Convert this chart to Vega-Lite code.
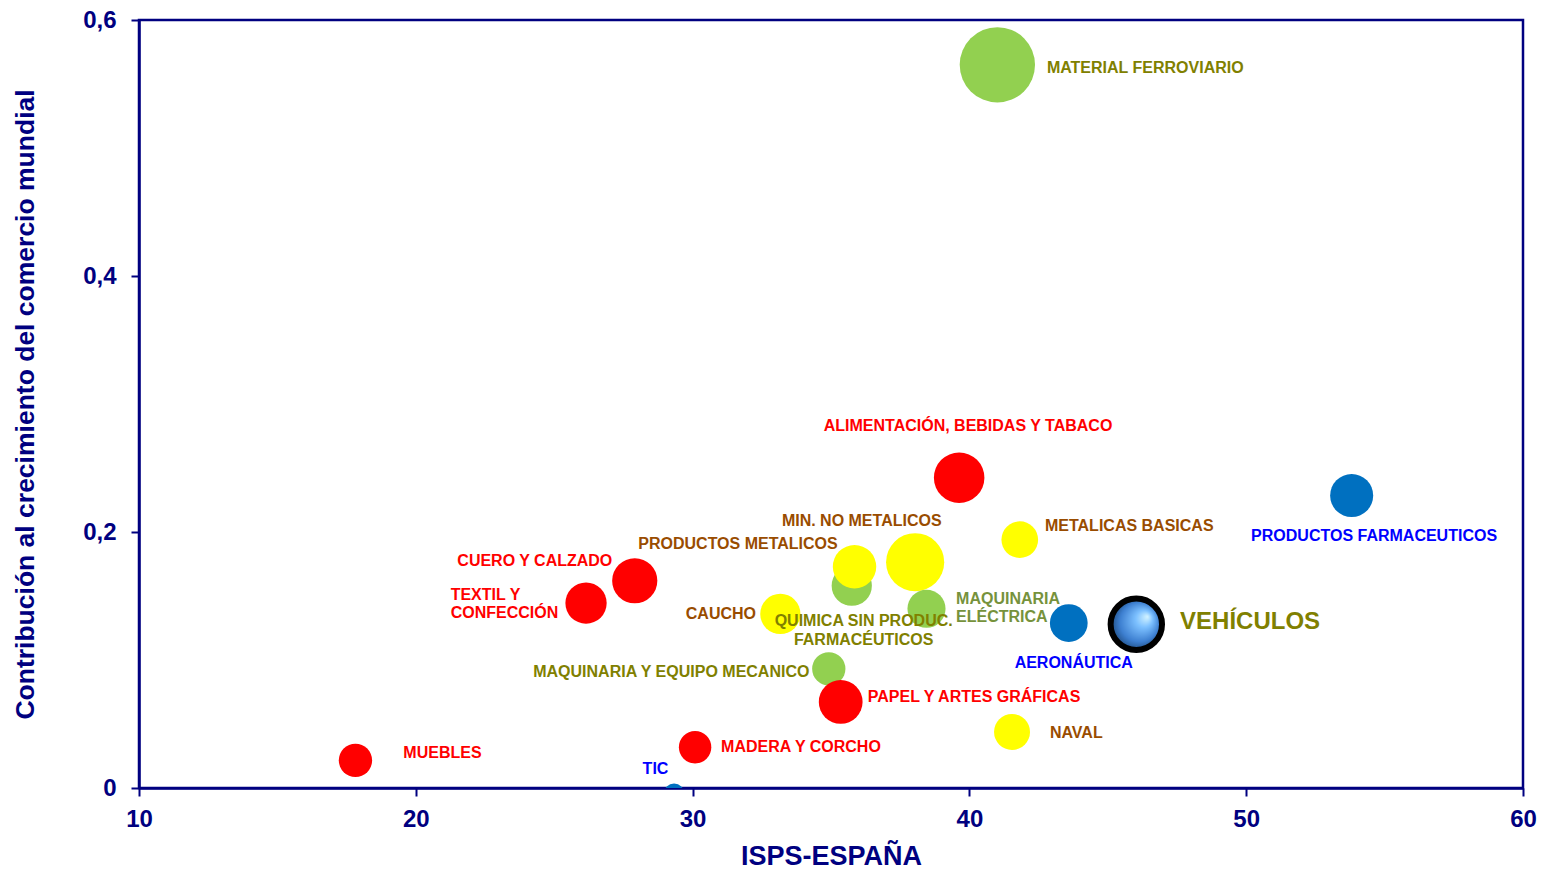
{
  "$schema": "https://vega.github.io/schema/vega-lite/v6.json",
  "width": 1384,
  "height": 768,
  "autosize": {"type": "none"},
  "padding": {"left": 139, "top": 20, "right": 20, "bottom": 82},
  "background": "white",
  "config": {
    "view": {"stroke": "#000080", "strokeWidth": 2.5},
    "font": "Liberation Sans",
    "axis": {
      "grid": false,
      "domainColor": "#000080",
      "domainWidth": 2.5,
      "tickColor": "#000080",
      "tickWidth": 2,
      "tickSize": 8,
      "labelColor": "#000080",
      "labelFont": "Liberation Sans",
      "labelFontSize": 24,
      "labelFontWeight": "bold",
      "titleColor": "#000080",
      "titleFont": "Liberation Sans",
      "titleFontSize": 27,
      "titleFontWeight": "bold"
    }
  },
  "data": {
    "values": [
      {"sector": "MUEBLES", "etiqueta": "MUEBLES", "isps": 17.82, "contribucion": 0.0216, "peso": 353, "grupo": "rojo", "lx": 19.55, "ly": 0.027},
      {"sector": "TIC", "etiqueta": "TIC", "isps": 29.33, "contribucion": -0.0046, "peso": 135, "grupo": "azul", "lx": 28.66, "ly": 0.0147},
      {"sector": "MADERA Y CORCHO", "etiqueta": "MADERA Y CORCHO", "isps": 30.09, "contribucion": 0.0319, "peso": 335, "grupo": "rojo", "lx": 31.03, "ly": 0.032},
      {"sector": "TEXTIL Y CONFECCIÓN", "etiqueta": "TEXTIL Y\nCONFECCIÓN", "isps": 26.15, "contribucion": 0.1445, "peso": 543, "grupo": "rojo", "lx": 21.26, "ly": 0.1511},
      {"sector": "CUERO Y CALZADO", "etiqueta": "CUERO Y CALZADO", "isps": 27.91, "contribucion": 0.1619, "peso": 650, "grupo": "rojo", "lx": 24.3, "ly": 0.1777},
      {"sector": "MAQUINARIA Y EQUIPO MECANICO", "etiqueta": "MAQUINARIA  Y EQUIPO MECANICO", "isps": 34.92, "contribucion": 0.0931, "peso": 353, "grupo": "verde", "lx": 34.22, "ly": 0.0909},
      {"sector": "PAPEL Y ARTES GRÁFICAS", "etiqueta": "PAPEL Y ARTES GRÁFICAS", "isps": 35.35, "contribucion": 0.0672, "peso": 610, "grupo": "rojo", "lx": 36.33, "ly": 0.0713},
      {"sector": "QUIMICA SIN PRODUC. FARMACÉUTICOS", "etiqueta": "QUIMICA SIN PRODUC.\nFARMACÉUTICOS", "isps": 35.75, "contribucion": 0.158, "peso": 515, "grupo": "verde", "lx": 36.18, "ly": 0.1304},
      {"sector": "CAUCHO", "etiqueta": "CAUCHO", "isps": 33.17, "contribucion": 0.136, "peso": 515, "grupo": "amarillo", "lx": 32.29, "ly": 0.1362},
      {"sector": "PRODUCTOS METALICOS", "etiqueta": "PRODUCTOS METALICOS", "isps": 35.85, "contribucion": 0.1729, "peso": 600, "grupo": "amarillo", "lx": 31.64, "ly": 0.1905},
      {"sector": "MIN. NO METALICOS", "etiqueta": "MIN. NO METALICOS", "isps": 38.04, "contribucion": 0.1764, "peso": 1076, "grupo": "amarillo", "lx": 36.11, "ly": 0.2088},
      {"sector": "MAQUINARIA ELÉCTRICA", "etiqueta": "MAQUINARIA\nELÉCTRICA", "isps": 38.45, "contribucion": 0.14, "peso": 462, "grupo": "verde", "lx": 39.52, "ly": 0.1475},
      {"sector": "ALIMENTACIÓN, BEBIDAS Y TABACO", "etiqueta": "ALIMENTACIÓN, BEBIDAS Y TABACO", "isps": 39.63, "contribucion": 0.2424, "peso": 812, "grupo": "rojo", "lx": 39.95, "ly": 0.2828},
      {"sector": "MATERIAL FERROVIARIO", "etiqueta": "MATERIAL  FERROVIARIO", "isps": 41.01, "contribucion": 0.565, "peso": 1806, "grupo": "verde", "lx": 42.8, "ly": 0.5625},
      {"sector": "METALICAS BASICAS", "etiqueta": "METALICAS BASICAS", "isps": 41.82, "contribucion": 0.194, "peso": 428, "grupo": "amarillo", "lx": 42.73, "ly": 0.2048},
      {"sector": "NAVAL", "etiqueta": "NAVAL", "isps": 41.54, "contribucion": 0.0438, "peso": 412, "grupo": "amarillo", "lx": 42.91, "ly": 0.0427},
      {"sector": "AERONÁUTICA", "etiqueta": "AERONÁUTICA", "isps": 43.59, "contribucion": 0.1289, "peso": 454, "grupo": "azul", "lx": 43.77, "ly": 0.0977},
      {"sector": "VEHÍCULOS", "etiqueta": "VEHÍCULOS", "isps": 46.03, "contribucion": 0.1279, "peso": 841, "grupo": "vehiculo", "lx": 47.61, "ly": 0.1295},
      {"sector": "PRODUCTOS FARMACEUTICOS", "etiqueta": "PRODUCTOS FARMACEUTICOS", "isps": 53.81, "contribucion": 0.2285, "peso": 590, "grupo": "azul", "lx": 54.62, "ly": 0.1969}
    ]
  },
  "layer": [
    {
      "transform": [{"filter": "datum.sector !== 'VEHÍCULOS'"}],
      "mark": {"type": "point", "shape": "circle", "filled": true, "opacity": 1, "strokeWidth": 0, "clip": true},
      "encoding": {
        "x": {
          "field": "isps", "type": "quantitative",
          "scale": {"domain": [10, 60], "nice": false, "zero": false},
          "axis": {"values": [10, 20, 30, 40, 50, 60], "labelPadding": 11, "titlePadding": 12, "labelFlush": false},
          "title": "ISPS-ESPAÑA"
        },
        "y": {
          "field": "contribucion", "type": "quantitative",
          "scale": {"domain": [0, 0.6], "nice": false, "zero": false},
          "axis": {"values": [0, 0.2, 0.4, 0.6], "labelPadding": 15, "titlePadding": 43, "titleFontSize": 26.5, "labelFlush": false,
                   "labelExpr": "datum.value == 0 ? '0' : replace(format(datum.value, '.1f'), '.', ',')"},
          "title": "Contribución al crecimiento del comercio mundial"
        },
        "size": {"field": "peso", "type": "quantitative", "scale": {"type": "linear", "domain": [0, 2000], "range": [0, 6283]}, "legend": null},
        "color": {"field": "grupo", "type": "nominal",
                  "scale": {"domain": ["rojo", "amarillo", "verde", "azul"], "range": ["#FF0000", "#FFFF00", "#92D050", "#0070C0"]},
                  "legend": null}
      }
    },
    {
      "transform": [{"filter": "datum.sector === 'VEHÍCULOS'"}],
      "mark": {
        "type": "point", "shape": "circle", "filled": true, "opacity": 1,
        "fill": {"gradient": "radial", "x1": 0.72, "y1": 0.35, "r1": 0, "x2": 0.5, "y2": 0.5, "r2": 0.55,
                 "stops": [{"offset": 0, "color": "#d4f4ff"}, {"offset": 0.3, "color": "#7cc0ff"}, {"offset": 0.7, "color": "#3d7fd0"}, {"offset": 1, "color": "#17406e"}]},
        "stroke": "#000000", "strokeWidth": 6
      },
      "encoding": {
        "x": {"field": "isps", "type": "quantitative", "title": "ISPS-ESPAÑA"},
        "y": {"field": "contribucion", "type": "quantitative", "title": "Contribución al crecimiento del comercio mundial"},
        "size": {"field": "peso", "type": "quantitative", "legend": null}
      }
    },
    {
      "transform": [{"filter": "indexof(['MUEBLES','MADERA Y CORCHO','TEXTIL Y CONFECCIÓN','PAPEL Y ARTES GRÁFICAS','MAQUINARIA ELÉCTRICA','MATERIAL FERROVIARIO','METALICAS BASICAS','NAVAL'], datum.sector) >= 0"}],
      "mark": {"type": "text", "align": "left", "baseline": "middle", "font": "Liberation Sans", "fontSize": 16, "fontWeight": "bold", "lineBreak": "\n", "lineHeight": 18},
      "encoding": {
        "x": {"field": "lx", "type": "quantitative", "title": "ISPS-ESPAÑA"},
        "y": {"field": "ly", "type": "quantitative", "title": "Contribución al crecimiento del comercio mundial"},
        "text": {"field": "etiqueta"},
        "color": {
          "condition": {"test": "datum.sector === 'MAQUINARIA ELÉCTRICA'", "value": "#76923C"},
          "field": "grupo", "type": "nominal",
          "scale": {"domain": ["rojo", "amarillo", "verde", "azul", "vehiculo"], "range": ["#FF0000", "#994C00", "#808000", "#0000FF", "#808000"]},
          "legend": null
        }
      }
    },
    {
      "transform": [{"filter": "indexof(['TIC','CUERO Y CALZADO','QUIMICA SIN PRODUC. FARMACÉUTICOS','PRODUCTOS METALICOS','MIN. NO METALICOS','ALIMENTACIÓN, BEBIDAS Y TABACO','AERONÁUTICA','PRODUCTOS FARMACEUTICOS'], datum.sector) >= 0"}],
      "mark": {"type": "text", "align": "center", "baseline": "middle", "font": "Liberation Sans", "fontSize": 16, "fontWeight": "bold", "lineBreak": "\n", "lineHeight": 19},
      "encoding": {
        "x": {"field": "lx", "type": "quantitative", "title": "ISPS-ESPAÑA"},
        "y": {"field": "ly", "type": "quantitative", "title": "Contribución al crecimiento del comercio mundial"},
        "text": {"field": "etiqueta"},
        "color": {
          "field": "grupo", "type": "nominal",
          "scale": {"domain": ["rojo", "amarillo", "verde", "azul", "vehiculo"], "range": ["#FF0000", "#994C00", "#808000", "#0000FF", "#808000"]},
          "legend": null
        }
      }
    },
    {
      "transform": [{"filter": "indexof(['CAUCHO','MAQUINARIA Y EQUIPO MECANICO'], datum.sector) >= 0"}],
      "mark": {"type": "text", "align": "right", "baseline": "middle", "font": "Liberation Sans", "fontSize": 16, "fontWeight": "bold"},
      "encoding": {
        "x": {"field": "lx", "type": "quantitative", "title": "ISPS-ESPAÑA"},
        "y": {"field": "ly", "type": "quantitative", "title": "Contribución al crecimiento del comercio mundial"},
        "text": {"field": "etiqueta"},
        "color": {
          "field": "grupo", "type": "nominal",
          "scale": {"domain": ["rojo", "amarillo", "verde", "azul", "vehiculo"], "range": ["#FF0000", "#994C00", "#808000", "#0000FF", "#808000"]},
          "legend": null
        }
      }
    },
    {
      "transform": [{"filter": "datum.sector === 'VEHÍCULOS'"}],
      "mark": {"type": "text", "align": "left", "baseline": "middle", "font": "Liberation Sans", "fontSize": 24, "fontWeight": "bold", "color": "#808000"},
      "encoding": {
        "x": {"field": "lx", "type": "quantitative", "title": "ISPS-ESPAÑA"},
        "y": {"field": "ly", "type": "quantitative", "title": "Contribución al crecimiento del comercio mundial"},
        "text": {"field": "etiqueta"}
      }
    }
  ],
  "resolve": {"scale": {"color": "independent"}}
}
